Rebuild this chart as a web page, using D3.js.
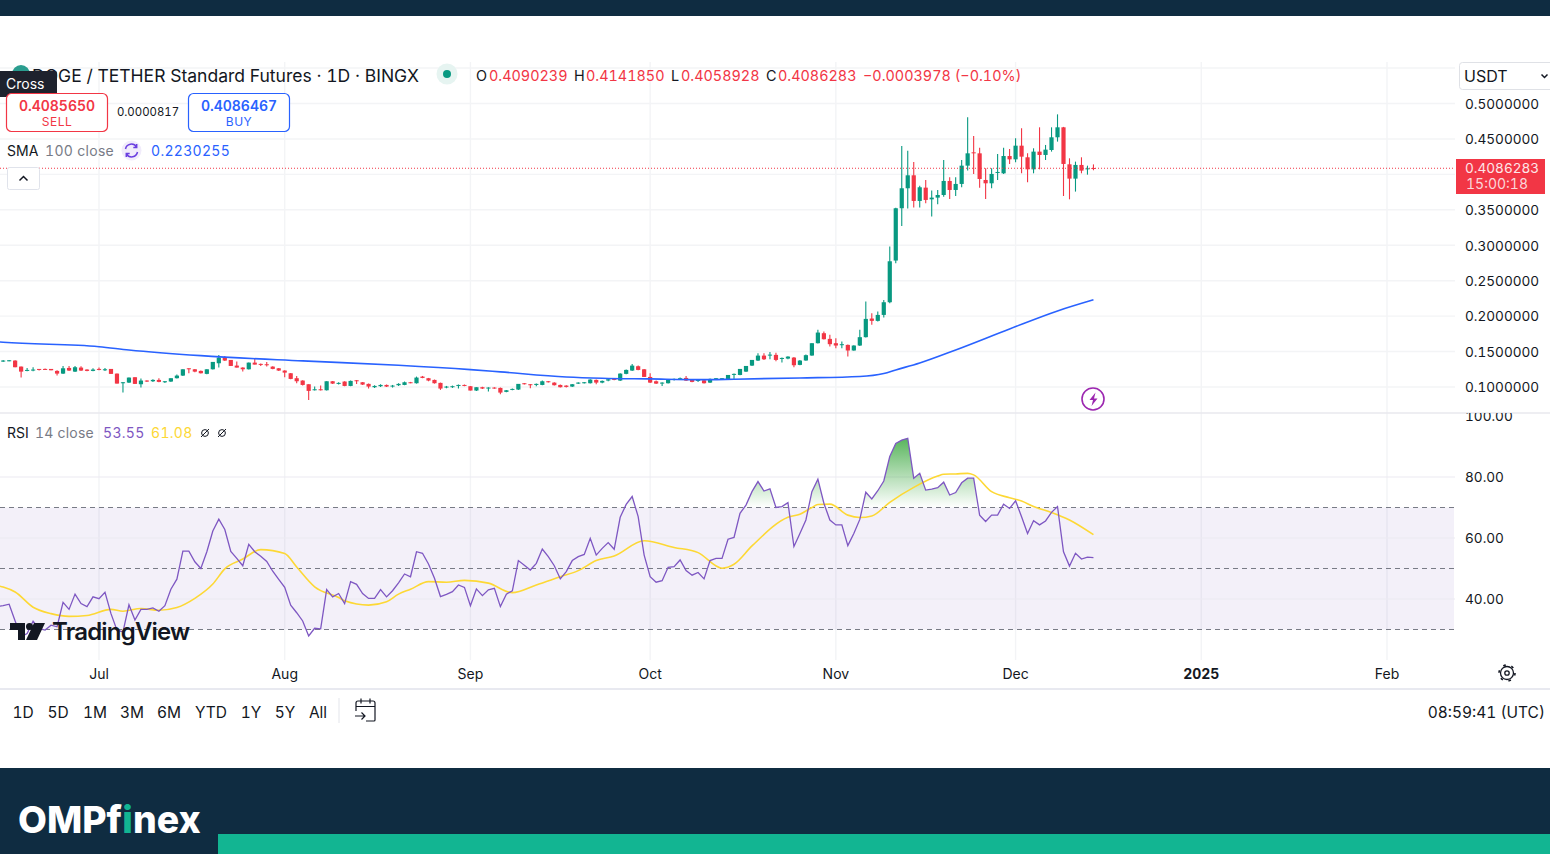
<!DOCTYPE html>
<html>
<head>
<meta charset="utf-8">
<script src="https://cdn.jsdelivr.net/npm/d3@7"></script>
<style>
  html, body { margin: 0; padding: 0; background: #fff; overflow: hidden; }
  svg { display: block; }
  text { font-family: Inter, 'Noto Sans', sans-serif; fill: #131722; font-variant-numeric: tabular-nums; }
</style>
</head>
<body>
<svg id="chart" width="1550" height="854"></svg>
<script>
// daily candles, Jun 15 -> Dec 14 2024
const firstDay = new Date(Date.UTC(2024, 5, 15))
const opens = [
  0.1359,0.1368,0.1373,0.1288,0.1232,0.1232,0.1255,0.1255,0.1255,0.1227,
  0.1189,0.1269,0.1217,0.1274,0.1246,0.1227,0.1255,0.1241,0.1255,0.1189,
  0.1062,0.1062,0.1138,0.1039,0.1091,0.1081,0.1100,0.1067,0.1077,0.1124,
  0.1161,0.1264,0.1250,0.1227,0.1185,0.1250,0.1335,0.1420,0.1382,0.1302,
  0.1274,0.1250,0.1344,0.1326,0.1321,0.1288,0.1264,0.1232,0.1194,0.1124,
  0.1091,0.1039,0.0954,0.0968,0.0954,0.1081,0.1048,0.1077,0.1015,0.1095,
  0.1067,0.1044,0.0997,0.1011,0.1029,0.1006,0.1025,0.1029,0.1067,0.1053,
  0.1147,0.1124,0.1100,0.1058,0.0992,0.0997,0.1020,0.1029,0.1011,0.0950,
  0.0997,0.0978,0.0992,0.0987,0.0931,0.0959,0.0964,0.1053,0.1039,0.1029,
  0.1029,0.1081,0.1062,0.1029,0.1020,0.1006,0.1053,0.1058,0.1053,0.1100,
  0.1062,0.1091,0.1114,0.1091,0.1185,0.1232,0.1293,0.1250,0.1142,0.1081,
  0.1053,0.1053,0.1100,0.1109,0.1128,0.1100,0.1086,0.1095,0.1062,0.1109,
  0.1109,0.1109,0.1175,0.1170,0.1217,0.1302,0.1373,0.1443,0.1443,0.1453,
  0.1401,0.1401,0.1415,0.1312,0.1374,0.1444,0.1618,0.1759,0.1679,0.1618,
  0.1594,0.1594,0.1515,0.1585,0.1703,0.1966,0.1933,0.2017,0.2196,0.2784,
  0.3522,0.3804,0.3987,0.3625,0.3813,0.3648,0.3672,0.3709,0.3907,0.3780,
  0.3865,0.4123,0.4311,0.4297,0.3921,0.3874,0.4020,0.4015,0.4259,0.4212,
  0.4405,0.4241,0.4071,0.4321,0.4274,0.4344,0.4523,0.4664,0.4142,0.3940,
  0.4133,0.4071,0.4090
]
const highs = [
  0.1382,0.1382,0.1377,0.1288,0.1269,0.1279,0.1255,0.1260,0.1255,0.1236,
  0.1297,0.1297,0.1297,0.1293,0.1250,0.1264,0.1274,0.1269,0.1255,0.1189,
  0.1072,0.1133,0.1138,0.1119,0.1095,0.1109,0.1124,0.1086,0.1124,0.1175,
  0.1250,0.1264,0.1255,0.1232,0.1250,0.1354,0.1453,0.1438,0.1382,0.1359,
  0.1279,0.1344,0.1396,0.1331,0.1354,0.1293,0.1269,0.1236,0.1199,0.1156,
  0.1095,0.1039,0.1006,0.1020,0.1081,0.1086,0.1067,0.1081,0.1091,0.1100,
  0.1072,0.1048,0.1025,0.1039,0.1034,0.1029,0.1053,0.1077,0.1072,0.1147,
  0.1156,0.1128,0.1105,0.1062,0.1015,0.1020,0.1034,0.1034,0.1015,0.0997,
  0.1003,0.0997,0.0997,0.0992,0.0959,0.0978,0.1044,0.1058,0.1044,0.1048,
  0.1091,0.1086,0.1067,0.1034,0.1025,0.1044,0.1067,0.1072,0.1109,0.1105,
  0.1091,0.1114,0.1124,0.1194,0.1246,0.1326,0.1302,0.1255,0.1194,0.1091,
  0.1067,0.1105,0.1119,0.1133,0.1156,0.1105,0.1109,0.1105,0.1119,0.1128,
  0.1128,0.1170,0.1190,0.1255,0.1297,0.1382,0.1476,0.1476,0.1495,0.1485,
  0.1415,0.1435,0.1425,0.1380,0.1459,0.1618,0.1806,0.1782,0.1736,0.1689,
  0.1642,0.1600,0.1590,0.1806,0.2206,0.2041,0.2064,0.2229,0.2981,0.3530,
  0.4400,0.4335,0.4175,0.3840,0.3921,0.3771,0.3780,0.4203,0.3959,0.3959,
  0.4203,0.4805,0.4541,0.4377,0.4085,0.4085,0.4288,0.4377,0.4358,0.4509,
  0.4650,0.4297,0.4368,0.4664,0.4415,0.4664,0.4847,0.4670,0.4227,0.4180,
  0.4241,0.4123,0.4141
]
const lows = [
  0.1354,0.1363,0.1279,0.1133,0.1222,0.1222,0.1232,0.1241,0.1236,0.1161,
  0.1185,0.1227,0.1213,0.1227,0.1222,0.1222,0.1236,0.1227,0.1185,0.1048,
  0.0921,0.1058,0.1044,0.0992,0.1072,0.1072,0.1067,0.1058,0.1072,0.1119,
  0.1156,0.1194,0.1208,0.1189,0.1180,0.1246,0.1274,0.1368,0.1297,0.1274,
  0.1217,0.1246,0.1316,0.1297,0.1288,0.1250,0.1227,0.1138,0.1109,0.1053,
  0.1020,0.0818,0.0950,0.0950,0.0950,0.1044,0.1034,0.1011,0.1011,0.1044,
  0.1029,0.0978,0.0985,0.1001,0.1001,0.0992,0.1015,0.1025,0.1053,0.1048,
  0.1124,0.1081,0.1048,0.0959,0.0982,0.0987,0.0978,0.1011,0.0950,0.0945,
  0.0973,0.0936,0.0975,0.0898,0.0925,0.0954,0.0959,0.1034,0.0982,0.1011,
  0.1025,0.1062,0.1020,0.0992,0.0992,0.1001,0.1044,0.1048,0.1048,0.1039,
  0.1053,0.1081,0.1095,0.1086,0.1180,0.1227,0.1236,0.1142,0.1058,0.1044,
  0.1015,0.1048,0.1091,0.1100,0.1086,0.1067,0.1072,0.1048,0.1058,0.1105,
  0.1105,0.1105,0.1109,0.1165,0.1213,0.1297,0.1368,0.1382,0.1391,0.1363,
  0.1344,0.1391,0.1280,0.1307,0.1370,0.1440,0.1612,0.1670,0.1571,0.1547,
  0.1547,0.1430,0.1510,0.1580,0.1700,0.1877,0.1925,0.1980,0.2182,0.2746,
  0.3272,0.3517,0.3531,0.3531,0.3592,0.3404,0.3578,0.3686,0.3653,0.3695,
  0.3818,0.4053,0.4006,0.3813,0.3653,0.3804,0.3921,0.4006,0.4147,0.4170,
  0.4015,0.3888,0.4015,0.4071,0.4203,0.4321,0.4462,0.3695,0.3648,0.3757,
  0.4015,0.3996,0.4058
]
const closes = [
  0.1373,0.1377,0.1279,0.1217,0.1241,0.1246,0.1246,0.1246,0.1236,0.1189,
  0.1264,0.1232,0.1279,0.1232,0.1227,0.1246,0.1241,0.1250,0.1185,0.1048,
  0.1067,0.1133,0.1044,0.1091,0.1077,0.1100,0.1072,0.1081,0.1124,0.1161,
  0.1250,0.1250,0.1217,0.1194,0.1250,0.1354,0.1415,0.1373,0.1297,0.1274,
  0.1250,0.1344,0.1316,0.1316,0.1307,0.1255,0.1232,0.1203,0.1114,0.1081,
  0.1029,0.0945,0.0968,0.0954,0.1081,0.1048,0.1058,0.1015,0.1086,0.1081,
  0.1034,0.1006,0.1015,0.1029,0.1006,0.1020,0.1044,0.1067,0.1058,0.1133,
  0.1128,0.1091,0.1053,0.0978,0.1006,0.1011,0.1029,0.1015,0.0950,0.0997,
  0.0978,0.0992,0.0982,0.0921,0.0954,0.0973,0.1044,0.1039,0.1025,0.1044,
  0.1081,0.1067,0.1025,0.0997,0.1001,0.1039,0.1062,0.1067,0.1105,0.1062,
  0.1086,0.1109,0.1100,0.1189,0.1241,0.1302,0.1241,0.1142,0.1062,0.1048,
  0.1062,0.1100,0.1114,0.1124,0.1091,0.1072,0.1100,0.1053,0.1114,0.1124,
  0.1124,0.1170,0.1185,0.1255,0.1297,0.1382,0.1443,0.1391,0.1457,0.1382,
  0.1410,0.1429,0.1307,0.1373,0.1449,0.1618,0.1768,0.1674,0.1604,0.1585,
  0.1604,0.1515,0.1585,0.1703,0.1961,0.1933,0.2017,0.2196,0.2774,0.3522,
  0.3804,0.3987,0.3625,0.3818,0.3639,0.3672,0.3709,0.3907,0.3780,0.3865,
  0.4123,0.4297,0.4297,0.3935,0.3874,0.4006,0.4034,0.4259,0.4212,0.4405,
  0.4250,0.4071,0.4321,0.4274,0.4349,0.4523,0.4664,0.4147,0.3940,0.4133,
  0.4053,0.4085,0.4086
]
// RSI starts one day before the first candle, the pane cuts it at the left edge
const rsiBeforeFirst = 37.6
const rsiValues = [
  37.8,38.3,32.8,27.6,28.7,32.7,30.3,29.8,31.4,30.9,
  38.9,36.6,41.6,38.5,37.5,40.7,40.1,42.2,35.2,29.8,
  29.2,38.1,33.1,36.6,36.6,37.1,36.0,37.8,43.2,46.5,
  55.7,55.7,52.2,50.0,55.5,62.3,66.2,62.8,55.6,53.3,
  50.9,57.9,55.5,54.0,52.3,49.1,46.4,43.8,38.0,35.5,
  32.8,27.9,30.4,30.2,43.1,40.7,41.8,38.5,45.7,44.8,
  41.8,40.2,40.2,43.1,40.7,42.7,45.3,48.2,47.3,55.5,
  55.0,51.5,46.8,40.8,41.5,42.4,44.6,43.8,37.8,43.3,
  41.1,43.0,43.5,37.5,41.6,42.7,52.6,51.1,49.5,51.7,
  56.4,53.9,50.9,46.6,49.0,52.6,53.9,54.6,59.9,54.4,
  56.6,58.5,56.3,66.8,71.0,73.6,67.0,54.4,47.3,45.5,
  46.0,50.4,50.6,52.8,49.3,47.8,48.7,46.6,52.6,53.3,
  53.3,59.6,60.2,68.1,70.8,75.2,78.5,75.4,76.1,70.0,
  70.3,71.6,57.2,61.5,65.9,75.2,79.3,71.4,65.9,64.3,
  64.3,57.5,61.5,66.1,75.0,72.8,75.5,78.7,86.7,91.0,
  92.1,92.7,79.6,81.2,75.7,76.0,76.5,78.3,74.1,74.9,
  78.1,79.6,79.6,67.5,65.4,67.5,67.5,71.1,69.7,72.2,
  67.0,61.5,65.7,64.3,65.6,68.4,70.3,55.5,50.8,55.0,
  53.1,53.7,53.55
]
// SMA 100 and the RSI average, read at the candle numbers listed beside them
const smaCandles = [-1,0,16,21,33,50,66,78,83,94,100,108,116,122,133,143,147,149,153,159,168,176,182]
const smaValues = [0.1638,0.1631,0.1569,0.1523,0.1442,0.1368,0.1307,0.1245,0.1213,0.1142,0.1124,0.1114,0.1104,0.1110,0.1128,0.1149,0.1191,0.1241,0.1339,0.1523,0.1819,0.2073,0.2230]
const rsiMaCandles = [-1,0,2,5,8,11,14,18,20,23,26,29,32,35,37,40,43,47,49,52,56,57,61,64,66,68,71,74,77,81,85,89,93,96,99,102,107,112,116,120,122,125,131,133,135,136,138,141,143,145,148,152,156,157,159,161,162,165,168,170,172,175,178,182]
const rsiMaValues = [44.4,43.9,42.3,37.3,35.2,34.3,34.6,36.6,36.0,36.9,36.3,37.2,40.2,44.9,49.9,53.1,56.2,54.9,50.5,44.0,40.5,39.4,38.0,39.1,41.6,43.2,45.7,45.5,46.1,45.2,42.1,44.6,47.3,49.3,52.6,54.1,59.1,56.9,55.2,50.1,51.4,57.4,66.8,67.8,70.0,71.0,71.1,67.5,66.7,67.2,71.7,76.6,80.3,80.9,81.0,81.2,80.7,75.2,73.2,72.1,70.3,68.4,65.9,61.08]

const priceTicks = [0.1,0.15,0.2,0.25,0.3,0.35,0.4,0.45,0.5]
const rsiTicks = [40,60,80,100]
const rsiBands = [70,50,30]
const monthTicks = [[2024,6,'Jul'],[2024,7,'Aug'],[2024,8,'Sep'],[2024,9,'Oct'],[2024,10,'Nov'],[2024,11,'Dec'],[2025,0,'2025'],[2025,1,'Feb']]
const rangeLabels = ['1D','5D','1M','3M','6M','YTD','1Y','5Y','All']
const lastPrice = 0.4086283

const upColor = '#089981'
const downColor = '#f23645'
const blue = '#2962ff'
const purple = '#7e57c2'
const yellow = '#fdd835'
const gridColor = '#f3f4f6'
const navy = '#0f2c41'
const paneRight = 1455

const dayAt = i => d3.utcDay.offset(firstDay, i)
const candles = closes.map((c, i) => ({ day: dayAt(i), o: opens[i], h: highs[i], l: lows[i], c }))
const monthDates = monthTicks.map(d => new Date(Date.UTC(d[0], d[1], 1)))

const x = d3.scaleUtc()
  .domain([new Date(Date.UTC(2024, 6, 1)), new Date(Date.UTC(2025, 1, 1))])
  .range([99, 1387])
const y = d3.scaleLinear().domain([0.1, 0.5]).range([387, 103.5])
const yRsi = d3.scaleLinear().domain([30, 100]).range([629.5, 416])

const svg = d3.select('#chart')
const defs = svg.append('defs')

defs.append('clipPath').attr('id', 'pane-clip').append('rect')
  .attr('x', 0).attr('y', 60).attr('width', paneRight).attr('height', 610)
defs.append('clipPath').attr('id', 'rsi-axis-clip').append('rect')
  .attr('x', 1455).attr('y', 413).attr('width', 95).attr('height', 250)
defs.append('clipPath').attr('id', 'over-clip').append('rect')
  .attr('x', 0).attr('y', yRsi(100)).attr('width', paneRight).attr('height', yRsi(70) - yRsi(100))

const overGrad = defs.append('linearGradient').attr('id', 'over-grad')
  .attr('gradientUnits', 'userSpaceOnUse')
  .attr('x1', 0).attr('x2', 0).attr('y1', yRsi(92)).attr('y2', yRsi(70))
overGrad.append('stop').attr('offset', 0).attr('stop-color', '#4caf50').attr('stop-opacity', 0.9)
overGrad.append('stop').attr('offset', 1).attr('stop-color', '#4caf50').attr('stop-opacity', 0)

// top and bottom brand bars
svg.append('rect').attr('width', 1550).attr('height', 16).attr('fill', navy)
svg.append('rect').attr('y', 768).attr('width', 1550).attr('height', 86).attr('fill', navy)
svg.append('rect').attr('x', 218).attr('y', 834).attr('width', 1332).attr('height', 20).attr('fill', '#12b592')

// grid
const grid = svg.append('g')
grid.selectAll('.v').data(monthDates).enter().append('line')
  .attr('x1', d => x(d)).attr('x2', d => x(d))
  .attr('y1', 62).attr('y2', 660)
  .attr('stroke', gridColor).attr('stroke-width', 1.4)
grid.selectAll('.h').data(priceTicks).enter().append('line')
  .attr('x1', 0).attr('x2', paneRight)
  .attr('y1', d => y(d)).attr('y2', d => y(d))
  .attr('stroke', gridColor).attr('stroke-width', 1.4)
grid.append('line').attr('x1', 0).attr('x2', paneRight).attr('y1', 68).attr('y2', 68)
  .attr('stroke', gridColor).attr('stroke-width', 1.4)

// pane separators
svg.append('line').attr('x1', 0).attr('x2', 1550).attr('y1', 413).attr('y2', 413)
  .attr('stroke', '#e8e9ee').attr('stroke-width', 1.5)
svg.append('line').attr('x1', 0).attr('x2', 1550).attr('y1', 689).attr('y2', 689)
  .attr('stroke', '#e8e9f0').attr('stroke-width', 2)

// candles
const candleG = svg.append('g').attr('clip-path', 'url(#pane-clip)')
candleG.selectAll('.wick').data(candles).enter().append('line')
  .attr('x1', d => x(d.day)).attr('x2', d => x(d.day))
  .attr('y1', d => y(d.h)).attr('y2', d => y(d.l))
  .attr('stroke', d => d.c >= d.o ? upColor : downColor)
  .attr('stroke-width', 1.1)
candleG.selectAll('.body').data(candles).enter().append('rect')
  .attr('x', d => x(d.day) - 2.1)
  .attr('width', 4.2)
  .attr('y', d => y(Math.max(d.o, d.c)))
  .attr('height', d => Math.max(1, Math.abs(y(d.o) - y(d.c))))
  .attr('fill', d => d.c >= d.o ? upColor : downColor)

// SMA
const smaLine = d3.line().x((d, i) => x(dayAt(smaCandles[i]))).y(d => y(d)).curve(d3.curveMonotoneX)
svg.append('path').datum(smaValues).attr('d', smaLine)
  .attr('clip-path', 'url(#pane-clip)')
  .attr('fill', 'none').attr('stroke', blue).attr('stroke-width', 1.6)

// last price line
svg.append('line').attr('x1', 0).attr('x2', paneRight).attr('y1', y(lastPrice)).attr('y2', y(lastPrice))
  .attr('stroke', downColor).attr('stroke-width', 1).attr('stroke-dasharray', '1 2')

// RSI pane
const rsiG = svg.append('g').attr('clip-path', 'url(#pane-clip)')
rsiG.append('rect').attr('x', 0).attr('width', paneRight - 1)
  .attr('y', yRsi(70)).attr('height', yRsi(30) - yRsi(70))
  .attr('fill', purple).attr('fill-opacity', 0.09)
rsiG.selectAll('.grid').data(rsiTicks.slice(0, 3)).enter().append('line')
  .attr('x1', 0).attr('x2', paneRight)
  .attr('y1', d => yRsi(d)).attr('y2', d => yRsi(d))
  .attr('stroke', '#ebe9f2').attr('stroke-width', 1.2)
rsiG.selectAll('.band').data(rsiBands).enter().append('line')
  .attr('x1', 0).attr('x2', paneRight - 1)
  .attr('y1', d => yRsi(d)).attr('y2', d => yRsi(d))
  .attr('stroke', '#787b86').attr('stroke-width', 1.2).attr('stroke-dasharray', '5 4')

const rsiPoints = [{ day: dayAt(-1), v: rsiBeforeFirst }].concat(rsiValues.map((v, i) => ({ day: dayAt(i), v })))
const overArea = d3.area().x(d => x(d.day)).y0(yRsi(70)).y1(d => yRsi(d.v))
rsiG.append('path').datum(rsiPoints).attr('d', overArea)
  .attr('clip-path', 'url(#over-clip)').attr('fill', 'url(#over-grad)')

const rsiMaLine = d3.line().x((d, i) => x(dayAt(rsiMaCandles[i]))).y(d => yRsi(d)).curve(d3.curveMonotoneX)
rsiG.append('path').datum(rsiMaValues).attr('d', rsiMaLine)
  .attr('fill', 'none').attr('stroke', yellow).attr('stroke-width', 1.6)
const rsiLine = d3.line().x(d => x(d.day)).y(d => yRsi(d.v))
rsiG.append('path').datum(rsiPoints).attr('d', rsiLine)
  .attr('fill', 'none').attr('stroke', purple).attr('stroke-width', 1.3)

// axes
function styleAxis(g) {
  g.select('.domain').remove()
  g.selectAll('.tick line').remove()
  g.selectAll('.tick text').attr('font-size', 14).attr('fill', '#131722')
    .style('font-family', 'Inter, sans-serif')
}
// the 0.4 label sits behind the last price tag, so it is left out
svg.append('g').attr('transform', 'translate(1465,0)')
  .call(d3.axisRight(y).tickValues(priceTicks.filter(d => d !== 0.4)).tickSize(0).tickPadding(0).tickFormat(d3.format('.7f')))
  .call(styleAxis)
  .selectAll('.tick text').attr('dy', '0.35em').attr('font-size', 13.6)
svg.append('g').attr('clip-path', 'url(#rsi-axis-clip)')
  .append('g').attr('transform', 'translate(1465,0)')
  .call(d3.axisRight(yRsi).tickValues(rsiTicks).tickSize(0).tickPadding(0).tickFormat(d3.format('.2f')))
  .call(styleAxis)
  .selectAll('.tick text').attr('dy', '0.35em').attr('font-size', 13.6)
const timeAxis = svg.append('g').attr('transform', 'translate(-0.5,668.5)')
  .call(d3.axisBottom(x).tickValues(monthDates).tickSize(0).tickPadding(0)
    .tickFormat((d, i) => monthTicks[i][2]))
  .call(styleAxis)
timeAxis.selectAll('.tick text').attr('dy', '0.72em')
  .attr('font-weight', (d, i) => monthTicks[i][2] === '2025' ? 700 : 400)

function label(str, px, py, size, color, opts) {
  const o = opts || {}
  return svg.append('text').attr('x', px).attr('y', py)
    .attr('dy', '0.35em')
    .attr('font-size', size)
    .attr('text-anchor', o.anchor || 'start')
    .attr('font-weight', o.weight || 400)
    .attr('letter-spacing', o.spacing || 0)
    .style('fill', color)
    .text(str)
}

// last price tag
svg.append('rect').attr('x', 1456).attr('y', 159).attr('width', 89).attr('height', 35).attr('fill', downColor)
label(d3.format('.7f')(lastPrice), 1465, 168.5, 13.6, '#fde6e8')
label('15:00:18', 1466, 184.5, 14, '#fbd7da')

// currency select
svg.append('rect').attr('x', 1459.5).attr('y', 62.5).attr('width', 100).attr('height', 27).attr('rx', 3)
  .attr('fill', '#fff').attr('stroke', '#dfe1e6')
label('USDT', 1464, 76, 16, '#131722')
svg.append('path').attr('d', 'M1541.5 74.5l3 3 3-3').attr('fill', 'none').attr('stroke', '#131722').attr('stroke-width', 1.5)

// title row
svg.append('circle').attr('cx', 21).attr('cy', 74).attr('r', 9).attr('fill', '#2a9d8f')
label('DOGE / TETHER Standard Futures · 1D · BINGX', 32, 75.5, 17.55, '#131722')
svg.append('circle').attr('cx', 447).attr('cy', 74).attr('r', 10.5).attr('fill', '#e6f4f1')
svg.append('circle').attr('cx', 447).attr('cy', 74).attr('r', 4).attr('fill', upColor)
const ohlcLabels = [['O', 476, 0.4090239, 489], ['H', 574, 0.414185, 586], ['L', 671, 0.4058928, 681], ['C', 766, 0.4086283, 778]]
ohlcLabels.forEach(d => {
  label(d[0], d[1], 75.5, 14.4, '#131722')
  label(d3.format('.7f')(d[2]), d[3], 75.5, 14.4, downColor)
})
label('−0.0003978 (−0.10%)', 863, 75.5, 14.4, downColor)

// cross tooltip
svg.append('path').attr('d', 'M0 71H55a2 2 0 0 1 2 2V95a2 2 0 0 1-2 2H0Z').attr('fill', '#1e222d')
label('Cross', 6, 84.5, 14, '#fff')

// sell / buy boxes
svg.append('rect').attr('x', 6.5).attr('y', 93.5).attr('width', 101).attr('height', 38).attr('rx', 5)
  .attr('fill', '#fff').attr('stroke', downColor).attr('stroke-width', 1.2)
label('0.4085650', 57, 106, 14, downColor, { anchor: 'middle', weight: 600 })
label('SELL', 57, 122, 12, downColor, { anchor: 'middle', spacing: 0.5 })
label('0.0000817', 148, 112.5, 11.4, '#131722', { anchor: 'middle' })
svg.append('rect').attr('x', 188.5).attr('y', 93.5).attr('width', 101).attr('height', 38).attr('rx', 5)
  .attr('fill', '#fff').attr('stroke', blue).attr('stroke-width', 1.2)
label('0.4086467', 239, 106, 14, blue, { anchor: 'middle', weight: 600 })
label('BUY', 239, 122, 12, blue, { anchor: 'middle', spacing: 0.5 })

// SMA legend
label('SMA', 7, 151, 14, '#131722')
label('100 close', 45, 151, 14, '#787b86', { spacing: 0.3 })
svg.append('circle').attr('cx', 131.5).attr('cy', 150.5).attr('r', 10).attr('fill', '#f1ecfb')
svg.append('path').attr('d', 'M125.5 149a6 6 0 0 1 11-2M137.5 152a6 6 0 0 1-11 2M136.7 144v3.4h-3.4M126.3 157v-3.4h3.4')
  .attr('fill', 'none').attr('stroke', '#6b3fe0').attr('stroke-width', 1.5)
label('0.2230255', 151, 151, 14, blue, { spacing: 0.3 })
svg.append('rect').attr('x', 7.5).attr('y', 167.5).attr('width', 32).attr('height', 22).attr('rx', 2)
  .attr('fill', '#fff').attr('stroke', '#e0e3eb')
svg.append('path').attr('d', 'M19.5 180.5l4-4 4 4').attr('fill', 'none').attr('stroke', '#131722').attr('stroke-width', 1.5)

// RSI legend
label('RSI', 7, 433, 14, '#131722')
label('14 close', 35, 433, 14, '#787b86', { spacing: 0.2 })
label('53.55', 103, 433, 14, purple, { spacing: 0.3 })
label('61.08', 151, 433, 14, yellow, { spacing: 0.3 })
;[205, 222].forEach(cx => {
  svg.append('circle').attr('cx', cx).attr('cy', 433).attr('r', 3.4).attr('fill', 'none').attr('stroke', '#131722')
  svg.append('line').attr('x1', cx - 4).attr('x2', cx + 4).attr('y1', 437).attr('y2', 429).attr('stroke', '#131722')
})

// lightning marker
svg.append('circle').attr('cx', 1093).attr('cy', 399).attr('r', 11).attr('fill', '#fff')
  .attr('stroke', '#9c27b0').attr('stroke-width', 1.6)
svg.append('path').attr('d', 'M1095.5 392.5l-6 7.5h3.5l-1.5 6 6-7.5h-3.5Z').attr('fill', '#9c27b0')

// TradingView logo
svg.append('path').attr('d', 'M10 623H25V640H18V630H10ZM34 623H45L37 640H26Z').attr('fill', '#131722')
svg.append('circle').attr('cx', 29.5).attr('cy', 626.5).attr('r', 3.5).attr('fill', '#131722')
label('TradingView', 52, 632, 24, '#131722', { weight: 600, spacing: -0.8 })

// range selector
const rangeCentres = [23, 58, 95, 132, 169, 211, 251, 285, 318]
rangeLabels.forEach((d, i) => label(d, rangeCentres[i], 712.5, 15.5, '#131722', { anchor: 'middle' }))
svg.append('line').attr('x1', 339).attr('x2', 339).attr('y1', 698).attr('y2', 723).attr('stroke', '#eceef2').attr('stroke-width', 1.5)
svg.append('path')
  .attr('d', 'M356 711V703a2 2 0 0 1 2-2h15a2 2 0 0 1 2 2v17a1 1 0 0 1-1 1h-8M356 706.5h19M361 698.5v5M370 698.5v5M355 716h10M361.5 712.5l3.5 3.5-3.5 3.5')
  .attr('fill', 'none').attr('stroke', '#131722').attr('stroke-width', 1.2)
label('08:59:41 (UTC)', 1545, 712.5, 15.5, '#131722', { anchor: 'end' })

// gear
svg.append('circle').attr('cx', 1507).attr('cy', 673).attr('r', 6.5).attr('fill', 'none').attr('stroke', '#131722').attr('stroke-width', 1.3)
svg.append('circle').attr('cx', 1507).attr('cy', 673).attr('r', 8).attr('fill', 'none').attr('stroke', '#131722')
  .attr('stroke-width', 1.6).attr('stroke-dasharray', '2.6 5.8')
svg.append('circle').attr('cx', 1507).attr('cy', 673).attr('r', 2.2).attr('fill', 'none').attr('stroke', '#131722').attr('stroke-width', 1.3)

// OMPfinex wordmark
const brand = svg.append('text').attr('x', 18).attr('y', 833)
  .attr('font-size', 37.4).attr('font-weight', 800)
  .style('font-family', 'Inter, sans-serif').style('fill', '#fff')
brand.append('tspan').text('OMPf')
brand.append('tspan').text('i').style('fill', '#12b592')
brand.append('tspan').text('nex')
</script>
</body>
</html>
